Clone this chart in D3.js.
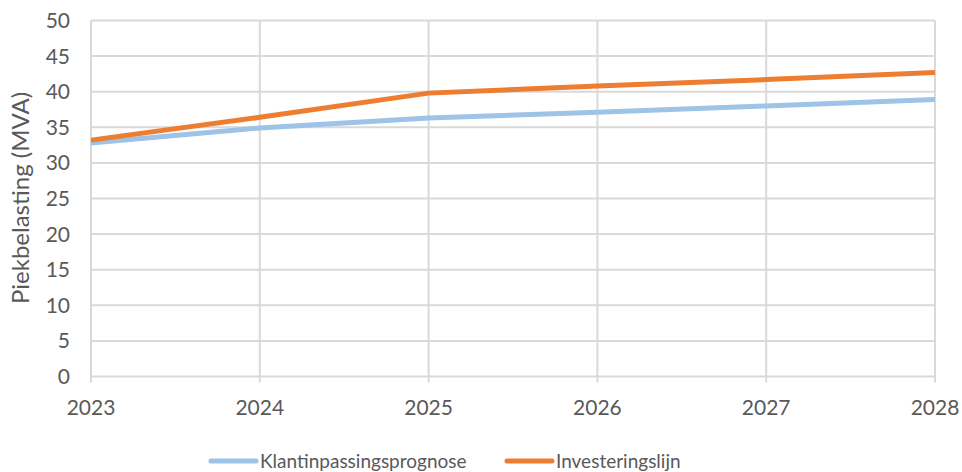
<!DOCTYPE html>
<html lang="nl">
<head>
<meta charset="utf-8">
<title>Piekbelasting</title>
<script src="https://cdn.jsdelivr.net/npm/d3@7"></script>
<style>
  body { margin: 0; background: #fff; }
  text { font-family: Lato, "Open Sans", sans-serif; fill: #595959; }
</style>
</head>
<body>
<script>
// data
var years = [2023, 2024, 2025, 2026, 2027, 2028];
var klantinpassing = [32.8, 34.9, 36.3, 37.1, 38.0, 38.9];
var investering = [33.2, 36.4, 39.8, 40.8, 41.7, 42.7];
var yTicks = [0, 5, 10, 15, 20, 25, 30, 35, 40, 45, 50];
var seriesNames = ["Klantinpassingsprognose", "Investeringslijn"];
var seriesColors = ["#9dc3e6", "#ed7d31"];

var w = 962, h = 472;
var margin = {left: 91, right: 27, top: 20.5, bottom: 95.5};

var svg = d3.select("body").append("svg")
  .attr("width", w)
  .attr("height", h);

var x = d3.scalePoint()
  .domain(years)
  .range([margin.left, w - margin.right]);

var y = d3.scaleLinear()
  .domain([0, 50])
  .range([h - margin.bottom, margin.top]);

// horizontal grid
svg.append("g")
  .selectAll("line")
  .data(yTicks)
  .enter().append("line")
  .attr("x1", margin.left)
  .attr("x2", w - margin.right)
  .attr("y1", function(d) { return y(d); })
  .attr("y2", function(d) { return y(d); })
  .attr("stroke", "#d9d9d9")
  .attr("stroke-width", 2);

// vertical grid
svg.append("g")
  .selectAll("line")
  .data(years)
  .enter().append("line")
  .attr("x1", function(d) { return x(d); })
  .attr("x2", function(d) { return x(d); })
  .attr("y1", y(50))
  .attr("y2", y(0) + 6)
  .attr("stroke", "#d9d9d9")
  .attr("stroke-width", 2);

// y tick labels
svg.append("g")
  .selectAll("text")
  .data(yTicks)
  .enter().append("text")
  .attr("x", 70)
  .attr("y", function(d) { return y(d); })
  .attr("dy", "0.36em")
  .attr("text-anchor", "end")
  .style("font-size", "21px")
  .text(function(d) { return d; });

// x tick labels
svg.append("g")
  .selectAll("text")
  .data(years)
  .enter().append("text")
  .attr("x", function(d) { return x(d); })
  .attr("y", 415)
  .attr("text-anchor", "middle")
  .style("font-size", "21px")
  .text(function(d) { return d; });

// axis title
svg.append("text")
  .attr("transform", "translate(29,198) rotate(-90)")
  .attr("text-anchor", "middle")
  .style("font-size", "24px")
  .text("Piekbelasting (MVA)");

var line = d3.line()
  .x(function(d, i) { return x(years[i]); })
  .y(function(d) { return y(d); });

[klantinpassing, investering].forEach(function(s, i) {
  svg.append("path")
    .datum(s)
    .attr("d", line)
    .attr("fill", "none")
    .attr("stroke", seriesColors[i])
    .attr("stroke-width", 5)
    .attr("stroke-linejoin", "round");
});

// legend
var legendX = [209, 505];
var lg = svg.append("g")
  .selectAll("g")
  .data(seriesNames)
  .enter().append("g")
  .attr("transform", function(d, i) { return "translate(" + legendX[i] + ",461)"; });

lg.append("line")
  .attr("x1", 2).attr("x2", 47)
  .attr("stroke", function(d, i) { return seriesColors[i]; })
  .attr("stroke-width", 5)
  .attr("stroke-linecap", "round");

lg.append("text")
  .attr("x", 51)
  .attr("dy", "0.36em")
  .style("font-size", "19px")
  .text(function(d) { return d; });
</script>
</body>
</html>
